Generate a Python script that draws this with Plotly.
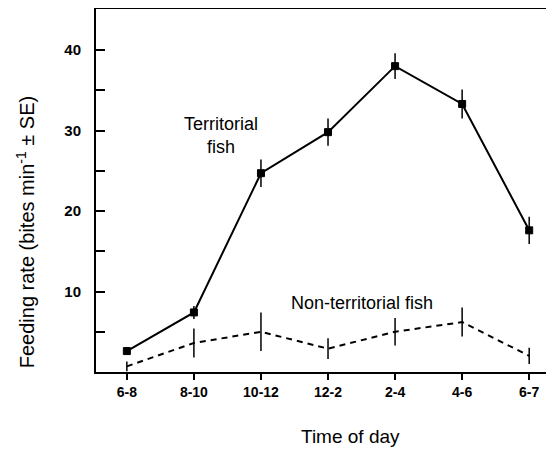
import plotly.graph_objects as go

times = ["6-8", "8-10", "10-12", "12-2", "2-4", "4-6", "6-7"]
territorial = [2.6, 7.4, 24.7, 29.8, 38.0, 33.3, 17.6]
territorial_se = [0.5, 0.8, 1.7, 1.7, 1.6, 1.8, 1.7]
nonterritorial = [0.7, 3.6, 5.0, 2.9, 5.0, 6.2, 2.0]
nonterritorial_se = [0.6, 1.8, 2.4, 1.3, 1.7, 1.8, 1.0]
y_ticks = [5, 10, 15, 20, 25, 30, 35, 40]
y_ticktext = ["", "10", "", "20", "", "30", "", "40"]

xi = list(range(len(times)))
font = "Liberation Sans, Arial, Helvetica, sans-serif"

fig = go.Figure()
fig.add_trace(go.Scatter(
    x=xi, y=nonterritorial, mode="lines",
    line=dict(color="black", width=2, dash="6px,5px"),
    error_y=dict(type="data", array=nonterritorial_se, visible=True,
                 color="black", thickness=1.5, width=0),
    showlegend=False))
fig.add_trace(go.Scatter(
    x=xi, y=territorial, mode="lines+markers",
    line=dict(color="black", width=2),
    marker=dict(symbol="square", size=7, color="black",
                line=dict(color="black", width=1)),
    error_y=dict(type="data", array=territorial_se, visible=True,
                 color="black", thickness=1.5, width=0),
    showlegend=False))

fig.add_annotation(x=1.4, y=29.4, text="Territorial<br>fish", showarrow=False,
                   font=dict(family=font, size=18, color="black"), align="center")
fig.add_annotation(x=3.5, y=8.6, text="Non-territorial fish", showarrow=False,
                   font=dict(family=font, size=18, color="black"))
fig.add_annotation(xref="paper", yref="paper", x=-0.155, y=0.385, xanchor="center",
                   yanchor="middle", textangle=-90, showarrow=False,
                   text="Feeding rate (bites min<sup>-1</sup> ± SE)",
                   font=dict(family=font, size=20, color="black"))
fig.add_annotation(xref="paper", yref="paper", x=0.555, y=-0.179, xanchor="center",
                   yanchor="middle", showarrow=False, text="Time of day",
                   font=dict(family=font, size=19, color="black"))

fig.update_xaxes(range=[-0.46, 6.37], tickvals=xi, ticktext=times,
                 showline=True, linecolor="black", linewidth=2, mirror=True,
                 ticks="outside", ticklen=6, tickwidth=1.5, tickcolor="black",
                 showgrid=False, zeroline=False,
                 tickfont=dict(family=font, size=14, color="black", weight="bold"))
fig.update_yaxes(range=[0, 45.1], tickvals=y_ticks, ticktext=y_ticktext,
                 showline=True, linecolor="black", linewidth=2,
                 ticks="inside", ticklen=9, tickwidth=1.5, tickcolor="black",
                 ticklabelstandoff=10,
                 showgrid=False, zeroline=False,
                 tickfont=dict(family=font, size=15, color="black", weight="bold"))

fig.update_layout(width=546, height=445, margin=dict(l=88, r=0, t=1, b=81),
                  plot_bgcolor="white", paper_bgcolor="white")
fig.write_html("out.html")
